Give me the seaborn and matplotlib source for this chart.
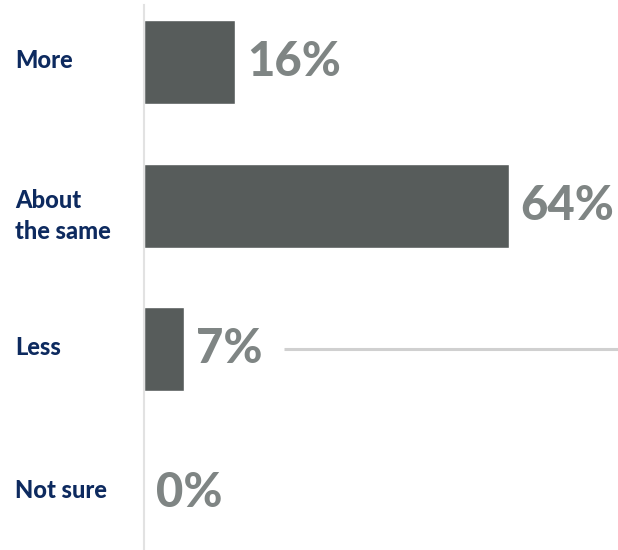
import matplotlib
matplotlib.use("Agg")
import matplotlib.pyplot as plt
import matplotlib.transforms as mtransforms
import seaborn as sns
import pandas as pd

categories = ["More", "About\nthe same", "Less", "Not sure"]
values = [16, 64, 7, 0]
value_labels = ["16%", "64%", "7%", "0%"]

BAR_COLOR = "#575c5b"
VALUE_COLOR = "#7f8584"
LABEL_COLOR = "#0d2a5f"
AXIS_COLOR = "#e2e2e2"

sns.set_theme(style="white")
plt.rcParams["font.family"] = ["Lato", "DejaVu Sans"]

df = pd.DataFrame({"category": categories, "value": values})

fig = plt.figure(figsize=(6.18, 5.5), dpi=100)
ax = fig.add_axes([144 / 618, 0.0, 1 - 144 / 618, 545 / 550])

sns.barplot(data=df, x="value", y="category", orient="h", color=BAR_COLOR,
            saturation=1, width=0.585, ax=ax)

XMAX = 83.2
ax.set_xlim(0, XMAX)
ax.set_ylim(3.4, -0.4)

# value labels to the right of each bar
offset = mtransforms.offset_copy(ax.transData, fig=fig, x=12, y=0, units="dots")
for i, (v, lab) in enumerate(zip(values, value_labels)):
    ax.text(v, i, lab, transform=offset, ha="left", va="center",
            fontsize=34, fontweight="black", color=VALUE_COLOR)

# category labels, left aligned at the figure edge;
# two-line labels sit slightly below the row centre
blend = mtransforms.blended_transform_factory(fig.transFigure, ax.transData)
for i, cat in enumerate(categories):
    shift = -10 if "\n" in cat else 2
    tr = mtransforms.offset_copy(blend, fig=fig, x=0, y=shift, units="dots")
    ax.text(15 / 618, i, cat, transform=tr, ha="left", va="center",
            fontsize=17, fontweight="black", color=LABEL_COLOR,
            linespacing=1.45)

# reference rule on the "Less" row
ax.hlines(2, 24.5, XMAX, color="#d0d0d0", linewidth=2.2)

ax.set_yticks([])
ax.set_xticks([])
ax.set_xlabel("")
ax.set_ylabel("")
for side in ["top", "right", "bottom"]:
    ax.spines[side].set_visible(False)
ax.spines["left"].set_color(AXIS_COLOR)
ax.spines["left"].set_linewidth(1.5)

fig.savefig("out.png", dpi=100)
